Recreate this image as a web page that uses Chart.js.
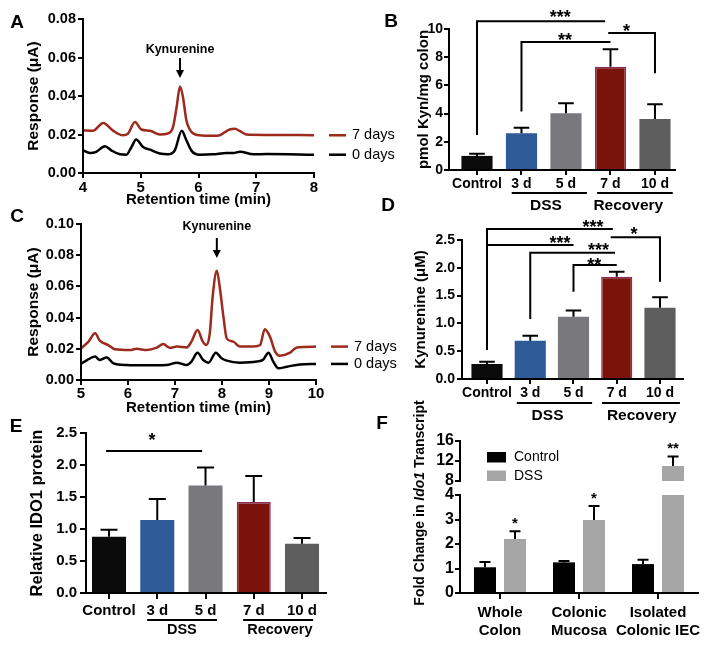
<!DOCTYPE html>
<html>
<head>
<meta charset="utf-8">
<title>Kynurenine and IDO1 in DSS colitis</title>
<script src="https://cdn.jsdelivr.net/npm/chart.js@4.4.1/dist/chart.umd.min.js"></script>
<style>
  html, body { margin: 0; padding: 0; background: #fff; }
  #fig { position: relative; width: 714px; height: 647px; overflow: hidden; }
  #fig canvas { position: absolute; }
  .lbl { position: absolute; width: 30px; text-align: center; font: bold 19px "Liberation Sans", Arial, sans-serif; line-height: 19px; }
</style>
</head>
<body>
<div id="fig">
  <canvas id="chartA" width="410" height="210" style="left:0;top:0"></canvas>
  <canvas id="chartC" width="410" height="210" style="left:0;top:210px"></canvas>
  <canvas id="chartB" width="354" height="220" style="left:360px;top:0"></canvas>
  <canvas id="chartD" width="354" height="220" style="left:360px;top:210px"></canvas>
  <canvas id="chartE" width="360" height="227" style="left:0;top:420px"></canvas>
  <canvas id="chartF" width="354" height="252" style="left:360px;top:395px"></canvas>
  <canvas id="chartFtop" width="354" height="252" style="left:360px;top:395px;z-index:2"></canvas>
  <div class="lbl" style="left:2px;top:12px">A</div>
  <div class="lbl" style="left:376px;top:11px">B</div>
  <div class="lbl" style="left:2px;top:206px">C</div>
  <div class="lbl" style="left:373px;top:195px">D</div>
  <div class="lbl" style="left:1px;top:416px">E</div>
  <div class="lbl" style="left:367px;top:413px">F</div>
</div>
<script>
// ---- data ----
// A: colon extract chromatogram (min, µA)
const aTime7 = [4.0, 4.17, 4.35, 4.52, 4.69, 4.78, 4.9, 5.01, 5.16, 5.33, 5.47, 5.56, 5.62, 5.68, 5.73, 5.79, 5.88, 6.02, 6.25, 6.37, 6.46, 6.54, 6.63, 6.72, 6.83, 7.18, 8.0];
const aResp7 = [0.0222, 0.0219, 0.026, 0.022, 0.0196, 0.0205, 0.0265, 0.0226, 0.0219, 0.020, 0.0205, 0.024, 0.034, 0.045, 0.0396, 0.0274, 0.0213, 0.0196, 0.0193, 0.0196, 0.0213, 0.0226, 0.023, 0.0217, 0.020, 0.0198, 0.0196];
const aTime0 = [4.0, 4.12, 4.23, 4.38, 4.49, 4.64, 4.75, 4.84, 4.92, 5.04, 5.16, 5.33, 5.47, 5.59, 5.71, 5.79, 5.88, 6.02, 6.25, 6.49, 6.6, 6.72, 6.95, 7.18, 8.0];
const aResp0 = [0.0118, 0.0104, 0.011, 0.0139, 0.0118, 0.0097, 0.0095, 0.0135, 0.0174, 0.0135, 0.0121, 0.0101, 0.0097, 0.0118, 0.0219, 0.017, 0.0115, 0.0095, 0.0097, 0.0104, 0.0104, 0.011, 0.0097, 0.0099, 0.0095];

// C: serum chromatogram
const cTime7 = [5.0, 5.16, 5.3, 5.4, 5.58, 5.72, 6.04, 6.18, 6.4, 6.61, 6.75, 6.89, 7.04, 7.25, 7.35, 7.48, 7.59, 7.67, 7.74, 7.8, 7.89, 7.96, 8.03, 8.1, 8.24, 8.38, 8.67, 8.81, 8.91, 9.02, 9.13, 9.23, 9.45, 9.59, 10.0];
const cResp7 = [0.0203, 0.0246, 0.0299, 0.0252, 0.0224, 0.0197, 0.0192, 0.020, 0.0192, 0.0207, 0.023, 0.0207, 0.0214, 0.0209, 0.0246, 0.032, 0.0246, 0.0224, 0.0299, 0.053, 0.070, 0.0577, 0.0406, 0.0267, 0.0246, 0.0214, 0.0214, 0.0224, 0.0325, 0.0278, 0.0182, 0.0156, 0.0175, 0.0209, 0.0214];
const cTime0 = [5.0, 5.13, 5.3, 5.4, 5.55, 5.69, 5.97, 6.4, 6.82, 7.04, 7.25, 7.35, 7.48, 7.6, 7.71, 7.87, 7.99, 8.1, 8.38, 8.74, 8.88, 8.99, 9.09, 9.2, 9.38, 9.66, 10.0];
const cResp0 = [0.0103, 0.0128, 0.015, 0.0128, 0.0145, 0.0107, 0.0096, 0.0094, 0.0096, 0.0111, 0.0096, 0.0118, 0.0175, 0.0128, 0.0111, 0.0175, 0.0139, 0.0124, 0.0111, 0.0118, 0.0132, 0.0175, 0.0118, 0.0075, 0.0085, 0.010, 0.0103];

const traceLabels = ['7 days', '0 days'];

// B, D, E: time course
const dayGroups = ['Control', '3 d', '5 d', '7 d', '10 d'];
const phaseLabels = ['DSS', 'Recovery'];
const kynColon = [1.0, 2.6, 4.02, 7.33, 3.62];
const kynColonSem = [0.15, 0.4, 0.71, 1.23, 1.04];
const kynSerum = [0.27, 0.69, 1.12, 1.84, 1.28];
const kynSerumSem = [0.04, 0.09, 0.11, 0.09, 0.19];
const ido1Protein = [0.88, 1.14, 1.68, 1.42, 0.77];
const ido1ProteinSem = [0.11, 0.33, 0.28, 0.41, 0.09];

// F: Ido1 transcript
const fGroups = [['Whole', 'Colon'], ['Colonic', 'Mucosa'], ['Isolated', 'Colonic IEC']];
const fSeries = ['Control', 'DSS'];
const fControl = [1.05, 1.25, 1.18];
const fControlSem = [0.22, 0.06, 0.18];
const fDss = [2.2, 2.98, 11.0];
const fDssSem = [0.32, 0.57, 1.9];
const fDssStars = ['*', '*', '**'];

// ---- styles ----
const FONT = '"Liberation Sans", Arial, Helvetica, sans-serif';
const RED_TRACE = '#9c2a1d';
const dayColors = ['#0b0b0b', '#2e5a97', '#79797d', '#7a1309', '#5e5e5e'];
const dayBorders = ['#0b0b0b', '#2e5a97', '#79797d', '#8c2c5c', '#5e5e5e'];
const dayBorderWidths = [0, 0, 0, 1.5, 0];
const fColors = ['#000000', '#a6a6a6'];

Chart.defaults.font.family = FONT;
Chart.defaults.color = '#000';

const bold = size => ({family: FONT, size: size, weight: 'bold'});
const toPoints = (xs, ys) => xs.map((x, i) => ({x: x, y: ys[i]}));
const fixWidth = w => scale => { scale.width = w; };
const fixHeight = h => scale => { scale.height = h; };
const indexTicks = n => scale => { scale.ticks = Array.from({length: n}, (_, i) => ({value: i})); };

function axisLines(tickLength) {
    return {
        border: {display: true, color: '#000', width: 2, z: 1},
        grid: {display: true, drawOnChartArea: false, drawTicks: true, tickLength: tickLength, color: '#000', lineWidth: 2, offset: false}
    };
}

function baseOptions(pad) {
    return {
        responsive: false,
        animation: false,
        events: [],
        layout: {padding: pad},
        plugins: {legend: {display: false}, tooltip: {enabled: false}}
    };
}

function text(ctx, str, x, y, font, align, baseline) {
    ctx.save();
    ctx.font = font;
    ctx.fillStyle = '#000';
    ctx.textAlign = align || 'center';
    ctx.textBaseline = baseline || 'middle';
    ctx.fillText(str, x, y);
    ctx.restore();
}

// asterisks sit high in the em box, so place them by their visual centre
function stars(ctx, str, x, y, size) {
    text(ctx, str, x, y + 0.57 * size, 'bold ' + size + 'px ' + FONT, 'center', 'alphabetic');
}

function polyline(chart, pts) {
    const ctx = chart.ctx, xs = chart.scales.x, ys = chart.scales.y;
    ctx.save();
    ctx.strokeStyle = '#000';
    ctx.lineWidth = 2;
    ctx.beginPath();
    pts.forEach((p, i) => {
        const px = xs.getPixelForValue(p[0]), py = ys.getPixelForValue(p[1]);
        if (i) ctx.lineTo(px, py); else ctx.moveTo(px, py);
    });
    ctx.stroke();
    ctx.restore();
}

function drawErrorBars(chart, semSets) {
    const ctx = chart.ctx, ys = chart.scales.y;
    ctx.save();
    ctx.strokeStyle = '#000';
    ctx.lineWidth = 2;
    semSets.forEach((sems, di) => {
        chart.getDatasetMeta(di).data.forEach((bar, j) => {
            const v = chart.data.datasets[di].data[j].y;
            if (v == null) return;
            const top = v + sems[j];
            if (v < ys.min || top > ys.max) return;
            const y0 = ys.getPixelForValue(v), y1 = ys.getPixelForValue(top);
            const half = bar.width / 4;
            ctx.beginPath();
            ctx.moveTo(bar.x, y0);
            ctx.lineTo(bar.x, y1);
            ctx.moveTo(bar.x - half, y1);
            ctx.lineTo(bar.x + half, y1);
            ctx.stroke();
        });
    });
    ctx.restore();
}

// ---- chromatograms (A, C) ----
function chromDecor(labelY, arrowTop, arrowBottom) {
    return function (chart) {
        const ctx = chart.ctx, xs = chart.scales.x, ys = chart.scales.y;
        const trace7 = chart.data.datasets[0].data;
        const peak = trace7.reduce((a, b) => (b.y > a.y ? b : a));
        const px = xs.getPixelForValue(peak.x);
        text(ctx, 'Kynurenine', px, labelY, 'bold 12.5px ' + FONT);
        ctx.save();
        ctx.strokeStyle = '#000';
        ctx.fillStyle = '#000';
        ctx.lineWidth = 2;
        ctx.beginPath();
        ctx.moveTo(px, arrowTop);
        ctx.lineTo(px, arrowBottom - 6);
        ctx.stroke();
        ctx.beginPath();
        ctx.moveTo(px - 4, arrowBottom - 8);
        ctx.lineTo(px + 4, arrowBottom - 8);
        ctx.lineTo(px, arrowBottom);
        ctx.closePath();
        ctx.fill();
        ctx.restore();
        // labels at the trace ends
        chart.data.datasets.forEach(ds => {
            const last = ds.data[ds.data.length - 1];
            const y = ys.getPixelForValue(last.y);
            const x0 = chart.chartArea.right + 15;
            ctx.save();
            ctx.strokeStyle = ds.borderColor;
            ctx.lineWidth = 2.5;
            ctx.beginPath();
            ctx.moveTo(x0, y);
            ctx.lineTo(x0 + 17, y);
            ctx.stroke();
            ctx.restore();
            text(ctx, ds.label, x0 + 23, y, '14.5px ' + FONT, 'left');
        });
    };
}

function chromChart(id, o) {
    return new Chart(document.getElementById(id), {
        type: 'line',
        data: {
            datasets: [
                {label: traceLabels[0], data: toPoints(o.t7, o.r7), borderColor: RED_TRACE},
                {label: traceLabels[1], data: toPoints(o.t0, o.r0), borderColor: '#000'}
            ]
        },
        options: Object.assign(baseOptions(o.pad), {
            elements: {point: {radius: 0}, line: {borderWidth: 2.5, cubicInterpolationMode: 'monotone', fill: false}},
            scales: {
                x: Object.assign({
                    type: 'linear', min: o.xMin, max: o.xMax, afterFit: fixHeight(o.xHeight),
                    ticks: {stepSize: 1, font: bold(15), color: '#000', padding: o.xTickPad},
                    title: {display: true, text: 'Retention time (min)', font: bold(15), color: '#000', padding: {top: 0, bottom: o.xTitlePad}}
                }, axisLines(5)),
                y: Object.assign({
                    type: 'linear', min: 0, max: o.yMax, afterFit: fixWidth(o.yWidth),
                    ticks: {stepSize: 0.02, font: bold(14.5), color: '#000', padding: 2, callback: v => v.toFixed(2)},
                    title: {display: true, text: 'Response (μA)', font: bold(15.5), color: '#000', padding: {top: 24, bottom: 0}}
                }, axisLines(5))
            }
        }),
        plugins: [{id: 'chromDecor', afterDraw: chromDecor(o.labelY, o.arrowTop, o.arrowBottom)}]
    });
}

chromChart('chartA', {
    t7: aTime7, r7: aResp7, t0: aTime0, r0: aResp0,
    xMin: 4, xMax: 8, yMax: 0.08,
    pad: {left: 0, top: 19, right: 96, bottom: 0},
    yWidth: 83, xHeight: 37, xTickPad: 1, xTitlePad: 1,
    labelY: 50, arrowTop: 58, arrowBottom: 78
});

chromChart('chartC', {
    t7: cTime7, r7: cResp7, t0: cTime0, r0: cResp0,
    xMin: 5, xMax: 10, yMax: 0.1,
    pad: {left: 0, top: 14, right: 94, bottom: 0},
    yWidth: 81, xHeight: 40, xTickPad: 0, xTitlePad: 3.5,
    labelY: 17, arrowTop: 28, arrowBottom: 48
});

// ---- bar panels (B, D, E) ----
function barDecor(o) {
    return function (chart) {
        const ctx = chart.ctx, xs = chart.scales.x;
        o.brackets.forEach(b => {
            polyline(chart, b.pts);
            stars(ctx, b.label, xs.getPixelForValue(b.at[0]), chart.scales.y.getPixelForValue(b.at[1]), o.starSize);
        });
        const bottom = chart.chartArea.bottom;
        o.phases.forEach((ph, i) => {
            ctx.save();
            ctx.strokeStyle = '#000';
            ctx.lineWidth = 2;
            ctx.beginPath();
            ctx.moveTo(xs.getPixelForValue(ph.span[0]), bottom + o.lineDy);
            ctx.lineTo(xs.getPixelForValue(ph.span[1]), bottom + o.lineDy);
            ctx.stroke();
            ctx.restore();
            text(ctx, phaseLabels[i], xs.getPixelForValue(ph.textAt), bottom + o.textDy, 'bold ' + o.phaseSize + 'px ' + FONT);
        });
    };
}

function barChart(id, o) {
    return new Chart(document.getElementById(id), {
        type: 'bar',
        data: {
            datasets: [{
                data: o.values.map((v, i) => ({x: i, y: v})),
                backgroundColor: dayColors,
                borderColor: dayBorders,
                borderWidth: dayBorderWidths,
                barPercentage: o.barPct,
                categoryPercentage: 1
            }]
        },
        options: Object.assign(baseOptions(o.pad), {
            scales: {
                x: Object.assign({
                    type: 'linear', min: o.xMin, max: o.xMax, offset: false,
                    afterBuildTicks: indexTicks(dayGroups.length), afterFit: fixHeight(o.xHeight),
                    ticks: {autoSkip: false, maxRotation: 0, font: bold(o.tickSize), color: '#000', padding: o.xTickPad, callback: v => dayGroups[v]}
                }, axisLines(o.tickLen)),
                y: Object.assign({
                    type: 'linear', min: 0, max: o.yMax, afterFit: fixWidth(o.yWidth),
                    ticks: {stepSize: o.step, font: bold(o.tickSize), color: '#000', padding: o.yTickPad,
                        callback: v => (o.decimals ? v.toFixed(o.decimals) : String(v))},
                    title: {display: true, text: o.title, font: bold(o.titleSize), color: '#000', padding: {top: o.titlePad, bottom: 0}}
                }, axisLines(o.tickLen))
            }
        }),
        plugins: [{
            id: 'barDecor',
            afterDatasetsDraw: c => drawErrorBars(c, [o.sem]),
            afterDraw: barDecor(o)
        }]
    });
}

barChart('chartB', {
    values: kynColon, sem: kynColonSem,
    xMin: -0.629, xMax: 4.45, yMax: 10, step: 2, decimals: 0,
    pad: {left: 0, top: 29, right: 39, bottom: 10},
    yWidth: 89, xHeight: 40, barPct: 0.7, tickLen: 5, tickSize: 14, xTickPad: 1, yTickPad: 1,
    title: 'pmol Kyn/mg colon', titleSize: 15, titlePad: 54.5,
    starSize: 18, lineDy: 23, textDy: 36, phaseSize: 15.5,
    brackets: [
        {pts: [[0, 2.49], [0, 10.55], [2.88, 10.55]], label: '***', at: [1.87, 11.13]},
        {pts: [[1, 4.15], [1, 9.08], [3, 9.08]], label: '**', at: [1.98, 9.54]},
        {pts: [[2.95, 9.72], [4, 9.72], [4, 6.87]], label: '*', at: [3.36, 10.18]}
    ],
    phases: [{span: [0.78, 2.47], textAt: 1.55}, {span: [2.7, 4.4], textAt: 3.4}]
});

barChart('chartD', {
    values: kynSerum, sem: kynSerumSem,
    xMin: -0.578, xMax: 4.532, yMax: 2.5, step: 0.5, decimals: 1,
    pad: {left: 0, top: 30, right: 31, bottom: 10},
    yWidth: 102, xHeight: 41, barPct: 0.72, tickLen: 5, tickSize: 14, xTickPad: 1, yTickPad: 2,
    title: 'Kynurenine (μM)', titleSize: 15, titlePad: 51.5,
    starSize: 18, lineDy: 24, textDy: 37, phaseSize: 15.5,
    brackets: [
        {pts: [[0, 0.52], [0, 2.70], [2.91, 2.70]], label: '***', at: [2.45, 2.81]},
        {pts: [[0, 2.41], [2.0, 2.41]], label: '***', at: [1.69, 2.52]},
        {pts: [[1, 1.08], [1, 2.27], [2.96, 2.27]], label: '***', at: [2.58, 2.39]},
        {pts: [[2, 1.57], [2, 2.05], [3.0, 2.05]], label: '**', at: [2.48, 2.13]},
        {pts: [[2.86, 2.55], [4, 2.55], [4, 1.75]], label: '*', at: [3.4, 2.68]}
    ],
    phases: [{span: [0.69, 2.43], textAt: 1.4}, {span: [2.66, 4.46], textAt: 3.58}]
});

barChart('chartE', {
    values: ido1Protein, sem: ido1ProteinSem,
    xMin: -0.477, xMax: 4.497, yMax: 2.5, step: 0.5, decimals: 1,
    pad: {left: 0, top: 13, right: 34, bottom: 0},
    yWidth: 86, xHeight: 54, barPct: 0.705, tickLen: 6, tickSize: 15, xTickPad: 3, yTickPad: 3,
    title: 'Relative IDO1 protein', titleSize: 16.5, titlePad: 27.6,
    starSize: 18, lineDy: 27, textDy: 36.5, phaseSize: 14.5,
    brackets: [
        {pts: [[-0.06, 2.22], [1.93, 2.22]], label: '*', at: [0.89, 2.46]}
    ],
    phases: [{span: [0.79, 2.24], textAt: 1.51}, {span: [2.78, 4.23], textAt: 3.54}]
});

// ---- F: broken y axis, drawn as two stacked charts ----
function fDatasets(minVisible) {
    return [fControl, fDss].map((vals, k) => ({
        label: fSeries[k],
        data: vals.map((v, i) => ({x: i, y: v >= minVisible ? v : null})),
        backgroundColor: fColors[k],
        barPercentage: 0.733,
        categoryPercentage: 0.76,
        clip: 0
    }));
}

function fStars(chart) {
    const ys = chart.scales.y;
    chart.getDatasetMeta(1).data.forEach((bar, j) => {
        const top = fDss[j] + fDssSem[j];
        if (fDss[j] < ys.min || top > ys.max) return;
        stars(chart.ctx, fDssStars[j], bar.x, ys.getPixelForValue(top) - 12, 15);
    });
}

// axis line and tick marks of the upper y scale, from that scale's own ticks;
// both F canvases share the same geometry, so this can be painted on either
function upperAxis(ctx, ys) {
    const x = ys.right;
    ctx.save();
    ctx.strokeStyle = '#000';
    ctx.lineWidth = 2;
    ctx.beginPath();
    ctx.moveTo(x, ys.top - 1);
    ctx.lineTo(x, ys.bottom + 1);
    ys.ticks.forEach((t, i) => {
        const py = Math.round(ys.getPixelForTick(i) - 1) + 1;
        ctx.moveTo(x - 5, py);
        ctx.lineTo(x, py);
    });
    ctx.stroke();
    ctx.restore();
}

const F_X_MIN = -0.506, F_X_MAX = 2.506;

function fYScale(min, max, step) {
    return Object.assign({
        type: 'linear', min: min, max: max, afterFit: fixWidth(100),
        ticks: {stepSize: step, autoSkip: false, font: bold(16), color: '#000', padding: 1}
    }, axisLines(5));
}

// upper part, 8-16
const fUpper = new Chart(document.getElementById('chartFtop'), {
    type: 'bar',
    data: {datasets: fDatasets(8)},
    options: Object.assign(baseOptions({left: 0, top: 46, right: 16, bottom: 166}), {
        scales: {
            x: Object.assign({
                type: 'linear', display: false, min: F_X_MIN, max: F_X_MAX, offset: false,
                afterBuildTicks: indexTicks(fGroups.length)
            }, axisLines(6)),
            y: fYScale(8, 16, 4)
        }
    }),
    plugins: [{
        id: 'fUpper',
        afterDatasetsDraw: c => drawErrorBars(c, [fControlSem, fDssSem]),
        afterDraw: chart => { upperAxis(chart.ctx, chart.scales.y); fStars(chart); }
    }]
});

// lower part, 0-4
new Chart(document.getElementById('chartF'), {
    type: 'bar',
    data: {datasets: fDatasets(0)},
    options: Object.assign(baseOptions({left: 0, top: 100, right: 16, bottom: 0}), {
        scales: {
            x: Object.assign({
                type: 'linear', min: F_X_MIN, max: F_X_MAX, offset: false,
                afterBuildTicks: indexTicks(fGroups.length), afterFit: fixHeight(54),
                ticks: {autoSkip: false, maxRotation: 0, font: bold(15), color: '#000', padding: 4.5, callback: v => fGroups[v]}
            }, axisLines(6)),
            y: fYScale(0, 4, 1)
        }
    }),
    plugins: [{
        id: 'fLower',
        afterDatasetsDraw: c => drawErrorBars(c, [fControlSem, fDssSem]),
        afterDraw: chart => {
            const ctx = chart.ctx;
            fStars(chart);
            upperAxis(ctx, fUpper.scales.y);
            // legend
            fSeries.forEach((name, k) => {
                ctx.fillStyle = fColors[k];
                ctx.fillRect(127, 57 + k * 18.5, 19, 10.5);
                text(ctx, name, 154, 62.5 + k * 18.5, '14px ' + FONT, 'left');
            });
            // y title with italic gene name
            const parts = [['Fold Change in ', 'bold 14px '], ['Ido1', 'italic bold 14px '], [' Transcript', 'bold 14px ']];
            ctx.save();
            ctx.translate(60, 108);
            ctx.rotate(-Math.PI / 2);
            let total = 0;
            parts.forEach(p => { ctx.font = p[1] + FONT; total += ctx.measureText(p[0]).width; });
            let x = -total / 2;
            ctx.fillStyle = '#000';
            ctx.textBaseline = 'middle';
            ctx.textAlign = 'left';
            parts.forEach(p => { ctx.font = p[1] + FONT; ctx.fillText(p[0], x, 0); x += ctx.measureText(p[0]).width; });
            ctx.restore();
        }
    }]
});
</script>
</body>
</html>
